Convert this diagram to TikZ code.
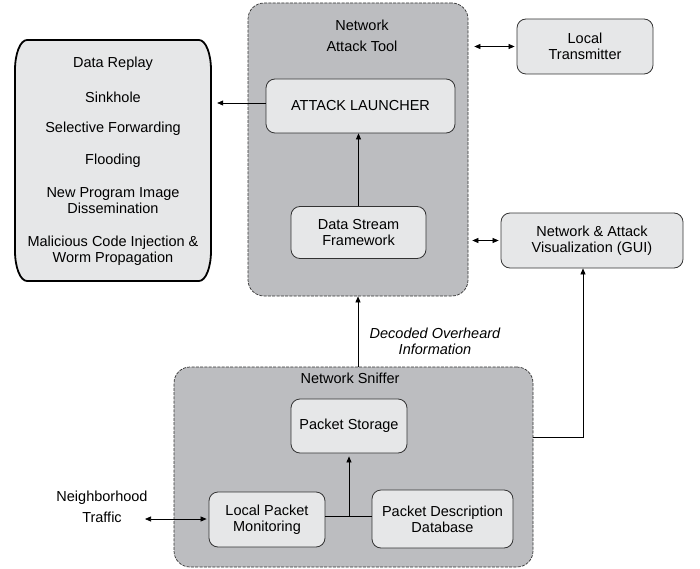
\documentclass[tikz,border=0pt]{standalone}
\usepackage{fontspec}
\setmainfont{Liberation Sans}
\usetikzlibrary{arrows.meta,calc}
\definecolor{cont}{HTML}{BCBDC0}
\definecolor{inner}{HTML}{E6E7E8}
\definecolor{edge}{HTML}{333333}
\begin{document}
\begin{tikzpicture}[x=1pt,y=-1pt,
  every node/.style={font=\fontsize{14.5}{16}\selectfont, align=center, inner sep=0pt},
  container/.style={draw=edge, fill=cont, dashed, dash pattern=on 3pt off 1.3pt, line width=0.7pt, rounded corners=16pt},
  box/.style={draw=edge, fill=inner, line width=0.8pt, rounded corners=9pt},
  listline/.style={draw=black, fill=inner, line width=1.8pt},
  arr/.style={-{Triangle[length=6pt,width=5pt]}, line width=0.7pt, draw=black},
  darr/.style={{Triangle[length=6pt,width=5pt]}-{Triangle[length=6pt,width=5pt]}, line width=0.7pt, draw=black},
  plain/.style={line width=0.7pt, draw=black}]
\useasboundingbox (0,0) rectangle (700,569);
% containers
\node[container, minimum width=220pt, minimum height=293pt] (nat) at (358,149.5) {};
\node[container, minimum width=359pt, minimum height=200pt] (sniff) at (353.5,467) {};
% titles
\node (nattitle) at (362,36) {Network\\[5pt]Attack Tool};
\node (snifftitle) at (350,378) {Network Sniffer};
% left list box
\draw[listline] (27,40) -- (199,40) arc[start angle=-90, end angle=0, x radius=12, y radius=30]
  -- (211,251) arc[start angle=0, end angle=90, x radius=12, y radius=30]
  -- (27,281) arc[start angle=90, end angle=180, x radius=12, y radius=30]
  -- (15,70) arc[start angle=180, end angle=270, x radius=12, y radius=30] -- cycle;
\node[minimum width=196pt, minimum height=241pt] (attacks) at (113,160.5) {};
\node (l1) at (113,64) {Data Replay};
\node (l2) at (113,97) {Sinkhole};
\node (l3) at (113,129) {Selective Forwarding};
\node (l4) at (113,161) {Flooding};
\node (l5) at (113,201) {New Program Image\\Dissemination};
\node (l6) at (113,251) {Malicious Code Injection \&\\Worm Propagation};
% inner boxes
\node[box, minimum width=189pt, minimum height=54pt] (al) at (360.5,106) {ATTACK LAUNCHER};
\node[box, minimum width=135pt, minimum height=52pt] (dsf) at (358.5,232.5) {Data Stream\\Framework};
\node[box, minimum width=136pt, minimum height=55pt] (lt) at (585,46.5) {Local\\Transmitter};
\node[box, minimum width=182pt, minimum height=55pt] (gui) at (592,240.5) {Network \& Attack\\Visualization (GUI)};
\node[box, minimum width=116pt, minimum height=54pt] (ps) at (349,426) {Packet Storage};
\node[box, minimum width=116pt, minimum height=55pt] (lpm) at (267,519.5) {Local Packet\\Monitoring};
\node[box, minimum width=141pt, minimum height=58pt] (pdd) at (442.5,519) {Packet Description\\Database};
% labels
\node (nt) at (102,507) {Neighborhood\\[5pt]Traffic};
\node[font=\fontsize{14.5}{16}\selectfont\itshape] (doi) at (435,341) {Decoded Overheard\\Information};
\coordinate (ntend) at (145,519);
% connectors
\draw[arr, shorten >=6pt] (al.west |- 0,103) -- (attacks.east |- 0,103);
\draw[arr] (dsf.north) -- (dsf.north |- al.south);
\draw[darr, shorten <=6pt, shorten >=2pt] (lt.west -| nat.east) -- (lt.west);
\draw[darr, shorten <=4pt, shorten >=2pt] (gui.west -| nat.east) -- (gui.west);
\draw[arr] (nat.south |- sniff.north) -- (nat.south);
\draw[arr] (sniff.east |- 0,437) -| ([xshift=-9pt]gui.south);
\draw[plain] ([yshift=3.5pt]lpm.east) -- ([yshift=3.5pt]lpm.east -| pdd.west);
\draw[arr, shorten >=3pt] ([yshift=3.5pt]lpm.east -| ps.south) -- (ps.south);
\draw[darr, shorten >=2pt] (ntend) -- (ntend -| lpm.west);
\end{tikzpicture}
\end{document}
